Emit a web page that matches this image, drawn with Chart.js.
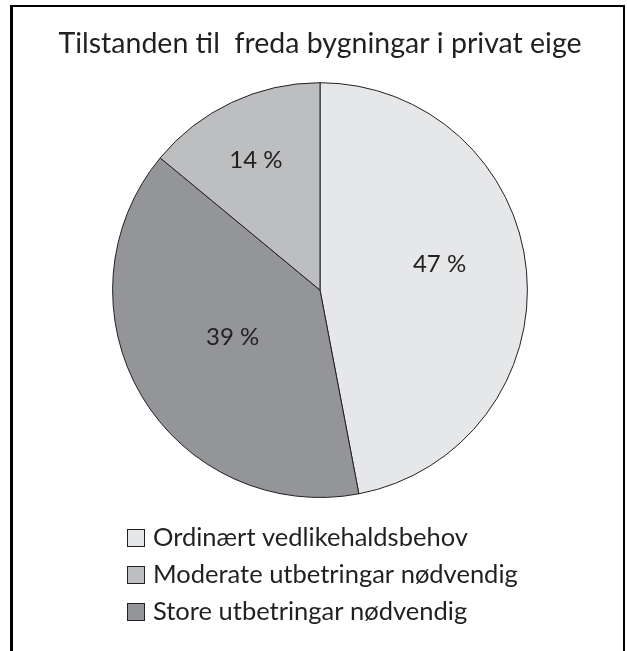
<!DOCTYPE html>
<html>
<head>
<meta charset="utf-8">
<script src="https://cdn.jsdelivr.net/npm/chart.js@4/dist/chart.umd.min.js"></script>
<style>
  html, body { margin: 0; padding: 0; background: #fff; }
  #wrap { position: relative; width: 627px; height: 651px; overflow: hidden; }
  #frame {
    position: absolute; left: 10px; top: 5px; width: 610px; height: 700px;
    border-left: 3px solid #000; border-top: 2px solid #000; border-right: 2px solid #000;
  }
  canvas { position: absolute; left: 0; top: 0; }
</style>
</head>
<body>
<div id="wrap">
  <div id="frame"></div>
  <canvas id="pieChart" width="627" height="651"></canvas>
</div>
<script>
// Data i teikneordning (med klokka frå toppen)
const categories = ['Ordinært vedlikehaldsbehov', 'Store utbetringar nødvendig', 'Moderate utbetringar nødvendig'];
const values = [47, 39, 14];
const sliceColors = ['#e6e7e8', '#939598', '#bcbec0'];
// Rekkjefølgje i forklaringa
const legendOrder = [0, 2, 1];

const FONT = "Lato, 'Liberation Sans', sans-serif";
const INK = '#231f20';

// Plassering av prosenttekstane: del av radius og vinkeljustering (grader)
const labelPlace = [
    { r: 0.59, da: -7 },
    { r: 0.48, da: 2 },
    { r: 0.70, da: -1 }
];

const percentLabels = {
    id: 'percentLabels',
    afterDatasetsDraw(chart) {
        const ctx = chart.ctx;
        const meta = chart.getDatasetMeta(0);
        ctx.save();
        ctx.font = '24px ' + FONT;
        ctx.fillStyle = INK;
        ctx.textAlign = 'center';
        ctx.textBaseline = 'middle';
        meta.data.forEach((arc, i) => {
            const p = labelPlace[i];
            const mid = (arc.startAngle + arc.endAngle) / 2 + p.da * Math.PI / 180;
            const x = arc.x + Math.cos(mid) * arc.outerRadius * p.r;
            const y = arc.y + Math.sin(mid) * arc.outerRadius * p.r;
            ctx.fillText(values[i] + ' %', x, y);
        });
        ctx.restore();
    }
};

const sideLegend = {
    id: 'sideLegend',
    afterDraw(chart) {
        const ctx = chart.ctx;
        const ds = chart.data.datasets[0];
        ctx.save();
        ctx.font = '25.5px ' + FONT;
        ctx.textBaseline = 'middle';
        legendOrder.forEach((idx, row) => {
            const y = 538 + row * 37;
            ctx.fillStyle = ds.backgroundColor[idx];
            ctx.fillRect(127, y - 9, 18, 18);
            ctx.strokeStyle = INK;
            ctx.lineWidth = 1;
            ctx.strokeRect(127.5, y - 8.5, 17, 17);
            ctx.fillStyle = INK;
            ctx.fillText(chart.data.labels[idx], 153, y);
        });
        ctx.restore();
    }
};

const ctx = document.getElementById('pieChart').getContext('2d');
const pieChart = new Chart(ctx, {
    type: 'pie',
    data: {
        labels: categories,
        datasets: [{
            data: values,
            backgroundColor: sliceColors,
            borderColor: INK,
            borderWidth: 1
        }]
    },
    options: {
        responsive: false,
        animation: false,
        layout: {
            padding: { top: 0, left: 13, right: 0, bottom: 153 }
        },
        plugins: {
            legend: { display: false },
            tooltip: { enabled: false },
            title: {
                display: true,
                text: 'Tilstanden til  freda bygningar i privat eige',
                color: INK,
                font: { family: FONT, size: 28.5, weight: 'normal', lineHeight: 1.2 },
                padding: { top: 27, bottom: 21 }
            }
        }
    },
    plugins: [percentLabels, sideLegend]
});
</script>
</body>
</html>
